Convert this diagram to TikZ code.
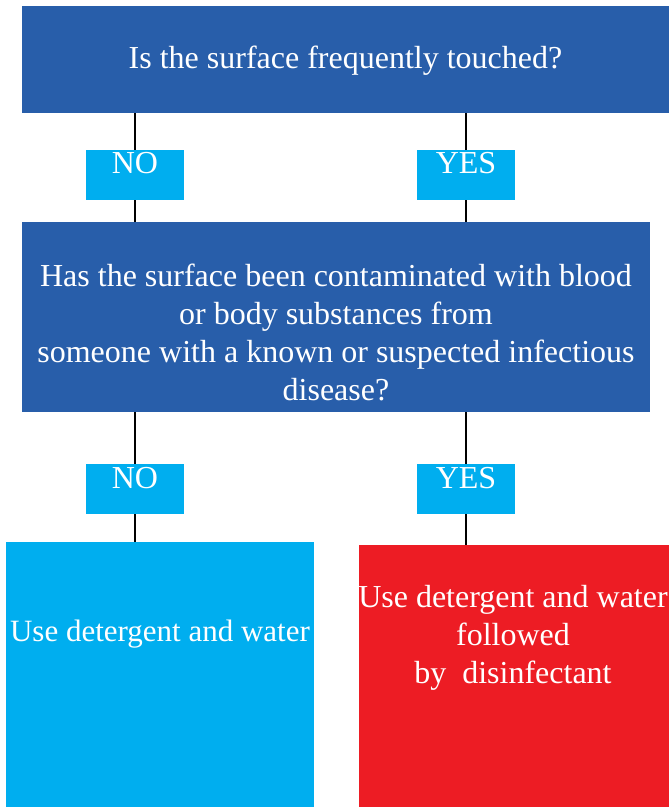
\documentclass[tikz,border=0pt]{standalone}
\usepackage{fontspec}
\setmainfont{Liberation Serif}
\definecolor{dblue}{HTML}{285EAA}
\definecolor{lblue}{HTML}{00AEEF}
\definecolor{bred}{HTML}{ED1C24}
\begin{document}
\begin{tikzpicture}[x=1pt,y=-1pt,
  font=\fontsize{32}{38}\selectfont,
  box/.style={inner sep=0pt, outer sep=0pt, text=white, anchor=north west},
  tag/.style={box, fill=lblue, minimum width=98pt},
  txt/.style={inner sep=0pt, text=white, align=center},
  conn/.style={draw=black, line width=2pt}]
\useasboundingbox (0,0) rectangle (669,807);
\node[box, fill=dblue, minimum width=647pt, text height=62pt, text depth=45pt] (q1) at (22,6) {Is the surface frequently touched?};
\node[tag, text height=23pt, text depth=27pt] (no1) at (86,150) {NO};
\node[tag, text height=23pt, text depth=27pt] (yes1) at (417,150) {YES};
\node[box, fill=dblue, minimum width=628pt, minimum height=190pt] (q2) at (22,222) {};
\node[txt] (q2t) at (336,332) {Has the surface been contaminated with blood\\or body substances from\\someone with a known or suspected infectious\\disease?};
\node[tag, text height=24pt, text depth=26pt] (no2) at (86,464) {NO};
\node[tag, text height=24pt, text depth=26pt] (yes2) at (417,464) {YES};
\node[box, fill=lblue, minimum width=308pt, minimum height=265pt] (a1) at (6,542) {};
\node[txt, anchor=base, font=\fontsize{31}{38}\selectfont] (a1t) at (160,641) {Use detergent and water};
\node[box, fill=bred, minimum width=310pt, minimum height=262pt] (a2) at (359,545) {};
\node[txt] (a2t) at (513,638) {Use detergent and water\\followed\\by~ disinfectant};
\draw[conn] (q1.south -| no1) -- (no1.north);
\draw[conn] (q1.south -| yes1) -- (yes1.north);
\draw[conn] (no1.south) -- (q2.north -| no1);
\draw[conn] (yes1.south) -- (q2.north -| yes1);
\draw[conn] (q2.south -| no1) -- (no2.north);
\draw[conn] (q2.south -| yes2) -- (yes2.north);
\draw[conn] (no2.south) -- (no2.south |- a1.north);
\draw[conn] (yes2.south) -- (yes2.south |- a2.north);
\end{tikzpicture}
\end{document}
